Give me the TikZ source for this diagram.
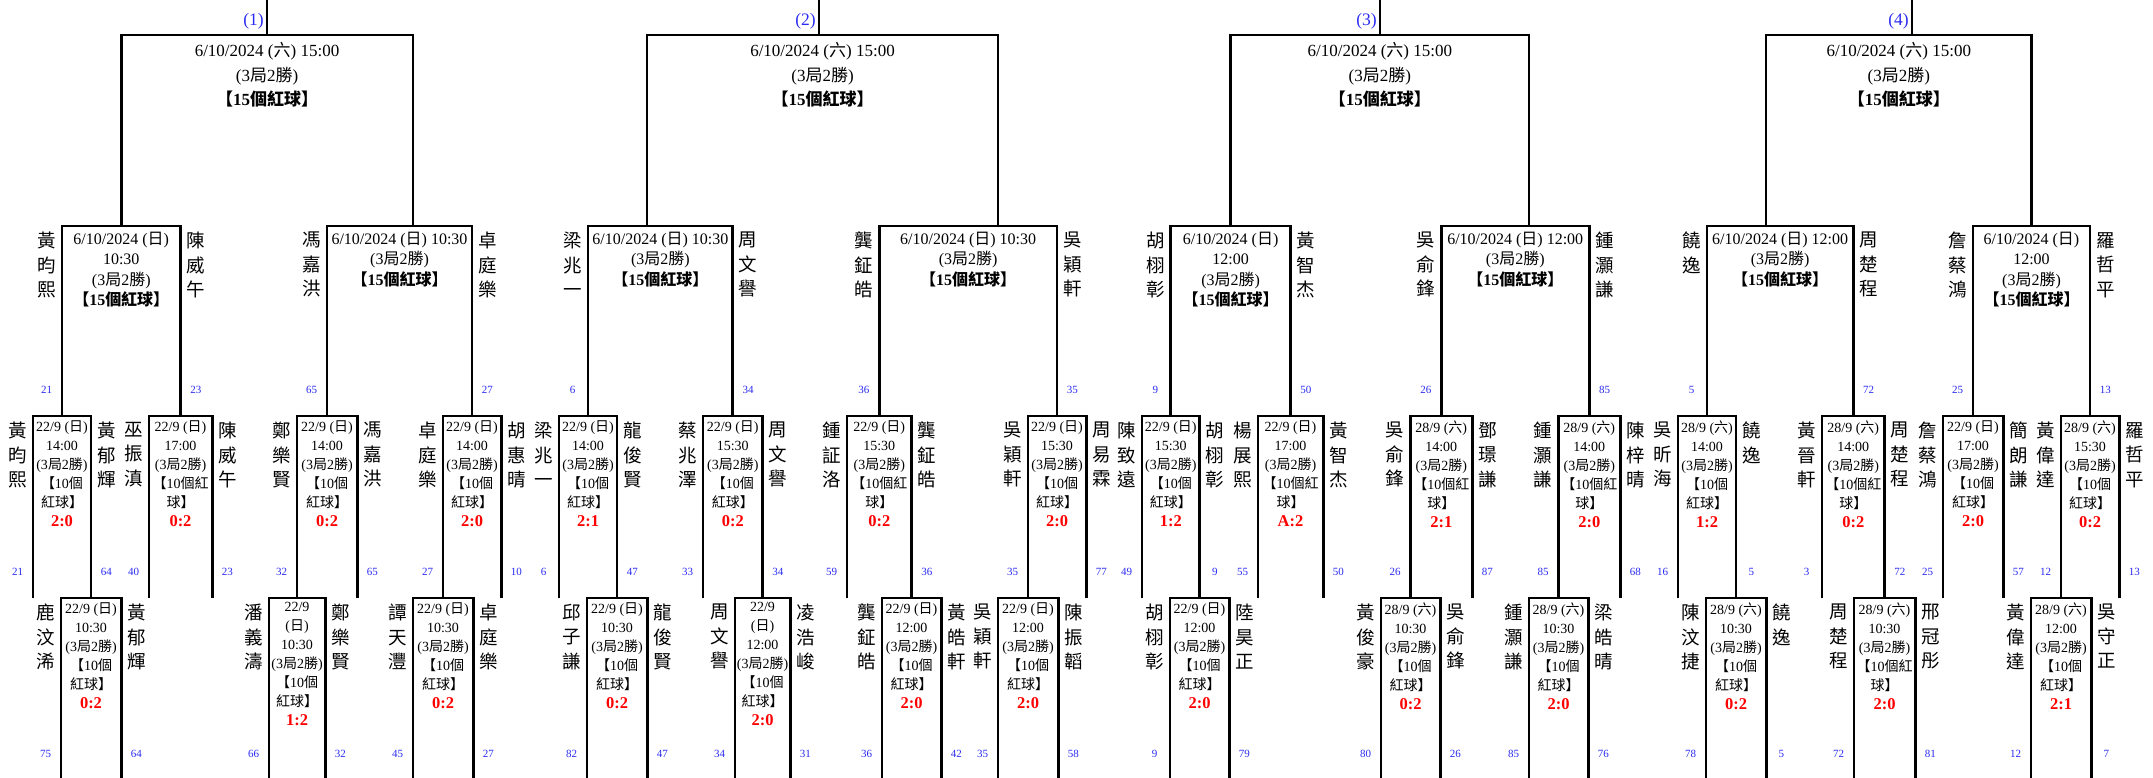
\documentclass[tikz,border=0pt]{standalone}
\usepackage{fontspec}
\setmainfont{Liberation Serif}
\newfontfamily\zhfont{Noto Sans CJK TC}
\usepackage{xcolor}
\usetikzlibrary{positioning}
\definecolor{seedBlue}{HTML}{2A2AF2}
\definecolor{scoreRed}{HTML}{FF0000}
\newcommand{\zh}[1]{{\zhfont #1}}
\newcommand{\bestof}{(3\zh{局}2\zh{勝})}
\newcommand{\bigballs}{\textbf{\zh{【}15\zh{個紅球】}}}
\newcommand{\tenballs}{\zh{【}10\zh{個}\\\zh{紅球】}}
\newcommand{\tenballsw}{\zh{【}10\zh{個紅}\\\zh{球】}}
\newcommand{\dsun}{(\zh{日})}
\newcommand{\dsat}{(\zh{六})}
\newcommand{\mscore}[1]{{\color{scoreRed}\fontsize{16.5}{19}\selectfont\bfseries #1}}

\begin{document}
\begin{tikzpicture}[x=1pt, y=-1pt,
        qfinal/.style={align=center, anchor=north, inner xsep=0pt, inner ysep=7.3pt,
            font=\fontsize{17}{24.5}\selectfont},
        qsemi/.style={align=center, anchor=north, inner xsep=0pt, inner ysep=5.7pt,
            font=\fontsize{16}{20.5}\selectfont},
        qheat/.style={align=center, anchor=north, inner xsep=0pt, inner ysep=4.5pt,
            font=\fontsize{14}{19}\selectfont},
        pname/.style={align=center, inner sep=0pt,
            font=\zhfont\fontsize{18.5}{24.5}\selectfont},
        seedno/.style={inner sep=0pt, text=seedBlue, font=\fontsize{11}{13}\selectfont},
        qlabel/.style={anchor=east, inner sep=0pt, text=seedBlue,
            font=\fontsize{17.5}{20}\selectfont},
        bline/.style={line width=2.6pt, draw=black}
    ]
    \useasboundingbox (0,0) rectangle (2153,777);
    \coordinate (rowtop) at (0,-2);
    \coordinate (rowthree) at (0,598);
    \coordinate (rowbottom) at (0,779);

    % ---------- (1)
    \node[qheat, minimum width=60pt] (u1a) at (91,598) {22/9 \dsun\\10:30\\\bestof\\\tenballs\\\mscore{0:2}};
    \node[qheat, minimum width=56pt] (u1b) at (297,598) {22/9\\\dsun\\10:30\\\bestof\\\tenballs\\\mscore{1:2}};
    \node[qheat, minimum width=60pt] (u1c) at (443,598) {22/9 \dsun\\10:30\\\bestof\\\tenballs\\\mscore{0:2}};
    \node[qheat, minimum width=58pt] (t1a) at (62,416) {22/9 \dsun\\14:00\\\bestof\\\tenballs\\\mscore{2:0}};
    \node[qheat, minimum width=63pt] (t1b) at (180.5,416) {22/9 \dsun\\17:00\\\bestof\\\tenballsw\\\mscore{0:2}};
    \node[qheat, minimum width=60pt] (t1c) at (327,416) {22/9 \dsun\\14:00\\\bestof\\\tenballs\\\mscore{0:2}};
    \node[qheat, minimum width=58pt] (t1d) at (472,416) {22/9 \dsun\\14:00\\\bestof\\\tenballs\\\mscore{2:0}};
    \node[qsemi, minimum width=118.5pt] (s1a) at (121.25,226) {6/10/2024 \dsun\\10:30\\\bestof\\\bigballs};
    \node[qsemi, minimum width=145pt] (s1b) at (399.5,226) {6/10/2024 \dsun{} 10:30\\\bestof\\\bigballs};
    \node[qfinal] (f1) at (267,35) {6/10/2024 \dsat{} 15:00\\\bestof\\\bigballs};
    \coordinate (s1a-stem) at (s1a.north);
    \coordinate (s1b-stem) at (413,226);
    \coordinate (f1-stem) at (267,35);
    \node[qlabel, xshift=-3pt] (lab1) at (f1-stem |- 0,21) {(1)};

    \node[pname, below left=6pt and 5.7pt of s1a.north west] (s1a-l) {黃\\昀\\熙}; \node[seedno] (s1a-ls) at (s1a-l |- 0,390) {21};
    \node[pname, below right=6pt and 5.7pt of s1a.north east] (s1a-r) {陳\\威\\午}; \node[seedno] (s1a-rs) at (s1a-r |- 0,390) {23};
    \node[pname, below left=6pt and 5.7pt of s1b.north west] (s1b-l) {馮\\嘉\\洪}; \node[seedno] (s1b-ls) at (s1b-l |- 0,390) {65};
    \node[pname, below right=6pt and 5.7pt of s1b.north east] (s1b-r) {卓\\庭\\樂}; \node[seedno] (s1b-rs) at (s1b-r |- 0,390) {27};
    \node[pname, below left=6pt and 5.7pt of t1a.north west] (t1a-l) {黃\\昀\\熙}; \node[seedno] (t1a-ls) at (t1a-l |- 0,572) {21};
    \node[pname, below right=6pt and 5.7pt of t1a.north east] (t1a-r) {黃\\郁\\輝}; \node[seedno] (t1a-rs) at (t1a-r |- 0,572) {64};
    \node[pname, below left=6pt and 5.7pt of t1b.north west] (t1b-l) {巫\\振\\滇}; \node[seedno] (t1b-ls) at (t1b-l |- 0,572) {40};
    \node[pname, below right=6pt and 5.7pt of t1b.north east] (t1b-r) {陳\\威\\午}; \node[seedno] (t1b-rs) at (t1b-r |- 0,572) {23};
    \node[pname, below left=6pt and 5.7pt of t1c.north west] (t1c-l) {鄭\\樂\\賢}; \node[seedno] (t1c-ls) at (t1c-l |- 0,572) {32};
    \node[pname, below right=6pt and 5.7pt of t1c.north east] (t1c-r) {馮\\嘉\\洪}; \node[seedno] (t1c-rs) at (t1c-r |- 0,572) {65};
    \node[pname, below left=6pt and 5.7pt of t1d.north west] (t1d-l) {卓\\庭\\樂}; \node[seedno] (t1d-ls) at (t1d-l |- 0,572) {27};
    \node[pname, below right=6pt and 5.7pt of t1d.north east] (t1d-r) {胡\\惠\\晴}; \node[seedno] (t1d-rs) at (t1d-r |- 0,572) {10};
    \node[pname, below left=6pt and 5.7pt of u1a.north west] (u1a-l) {鹿\\汶\\浠}; \node[seedno] (u1a-ls) at (u1a-l |- 0,754) {75};
    \node[pname, below right=6pt and 5.7pt of u1a.north east] (u1a-r) {黃\\郁\\輝}; \node[seedno] (u1a-rs) at (u1a-r |- 0,754) {64};
    \node[pname, below left=6pt and 5.7pt of u1b.north west] (u1b-l) {潘\\義\\濤}; \node[seedno] (u1b-ls) at (u1b-l |- 0,754) {66};
    \node[pname, below right=6pt and 5.7pt of u1b.north east] (u1b-r) {鄭\\樂\\賢}; \node[seedno] (u1b-rs) at (u1b-r |- 0,754) {32};
    \node[pname, below left=6pt and 5.7pt of u1c.north west] (u1c-l) {譚\\天\\灃}; \node[seedno] (u1c-ls) at (u1c-l |- 0,754) {45};
    \node[pname, below right=6pt and 5.7pt of u1c.north east] (u1c-r) {卓\\庭\\樂}; \node[seedno] (u1c-rs) at (u1c-r |- 0,754) {27};

    % ---------- (2)
    \node[qheat, minimum width=60pt] (u2a) at (617,598) {22/9 \dsun\\10:30\\\bestof\\\tenballs\\\mscore{0:2}};
    \node[qheat, minimum width=55pt] (u2b) at (762.5,598) {22/9\\\dsun\\12:00\\\bestof\\\tenballs\\\mscore{2:0}};
    \node[qheat, minimum width=59pt] (u2c) at (911.5,598) {22/9 \dsun\\12:00\\\bestof\\\tenballs\\\mscore{2:0}};
    \node[qheat, minimum width=60pt] (u2d) at (1028,598) {22/9 \dsun\\12:00\\\bestof\\\tenballs\\\mscore{2:0}};
    \node[qheat, minimum width=58pt] (t2a) at (588,416) {22/9 \dsun\\14:00\\\bestof\\\tenballs\\\mscore{2:1}};
    \node[qheat, minimum width=59.5pt] (t2b) at (732.75,416) {22/9 \dsun\\15:30\\\bestof\\\tenballs\\\mscore{0:2}};
    \node[qheat, minimum width=64.5pt] (t2c) at (879.25,416) {22/9 \dsun\\15:30\\\bestof\\\tenballsw\\\mscore{0:2}};
    \node[qheat, minimum width=58pt] (t2d) at (1057,416) {22/9 \dsun\\15:30\\\bestof\\\tenballs\\\mscore{2:0}};
    \node[qsemi, minimum width=144.75pt] (s2a) at (660.4,226) {6/10/2024 \dsun{} 10:30\\\bestof\\\bigballs};
    \node[qsemi, minimum width=177.75pt] (s2b) at (968.1,226) {6/10/2024 \dsun{} 10:30\\\bestof\\\bigballs};
    \node[qfinal] (f2) at (822.5,35) {6/10/2024 \dsat{} 15:00\\\bestof\\\bigballs};
    \coordinate (s2a-stem) at (647,226);
    \coordinate (s2b-stem) at (998,226);
    \coordinate (f2-stem) at (819,35);
    \node[qlabel, xshift=-3pt] (lab2) at (f2-stem |- 0,21) {(2)};

    \node[pname, below left=6pt and 5.7pt of s2a.north west] (s2a-l) {梁\\兆\\一}; \node[seedno] (s2a-ls) at (s2a-l |- 0,390) {6};
    \node[pname, below right=6pt and 5.7pt of s2a.north east] (s2a-r) {周\\文\\譽}; \node[seedno] (s2a-rs) at (s2a-r |- 0,390) {34};
    \node[pname, below left=6pt and 5.7pt of s2b.north west] (s2b-l) {龔\\鉦\\皓}; \node[seedno] (s2b-ls) at (s2b-l |- 0,390) {36};
    \node[pname, below right=6pt and 5.7pt of s2b.north east] (s2b-r) {吳\\穎\\軒}; \node[seedno] (s2b-rs) at (s2b-r |- 0,390) {35};
    \node[pname, below left=6pt and 5.7pt of t2a.north west] (t2a-l) {梁\\兆\\一}; \node[seedno] (t2a-ls) at (t2a-l |- 0,572) {6};
    \node[pname, below right=6pt and 5.7pt of t2a.north east] (t2a-r) {龍\\俊\\賢}; \node[seedno] (t2a-rs) at (t2a-r |- 0,572) {47};
    \node[pname, below left=6pt and 5.7pt of t2b.north west] (t2b-l) {蔡\\兆\\澤}; \node[seedno] (t2b-ls) at (t2b-l |- 0,572) {33};
    \node[pname, below right=6pt and 5.7pt of t2b.north east] (t2b-r) {周\\文\\譽}; \node[seedno] (t2b-rs) at (t2b-r |- 0,572) {34};
    \node[pname, below left=6pt and 5.7pt of t2c.north west] (t2c-l) {鍾\\証\\洛}; \node[seedno] (t2c-ls) at (t2c-l |- 0,572) {59};
    \node[pname, below right=6pt and 5.7pt of t2c.north east] (t2c-r) {龔\\鉦\\皓}; \node[seedno] (t2c-rs) at (t2c-r |- 0,572) {36};
    \node[pname, below left=6pt and 5.7pt of t2d.north west] (t2d-l) {吳\\穎\\軒}; \node[seedno] (t2d-ls) at (t2d-l |- 0,572) {35};
    \node[pname, below right=6pt and 5.7pt of t2d.north east] (t2d-r) {周\\易\\霖}; \node[seedno] (t2d-rs) at (t2d-r |- 0,572) {77};
    \node[pname, below left=6pt and 5.7pt of u2a.north west] (u2a-l) {邱\\子\\謙}; \node[seedno] (u2a-ls) at (u2a-l |- 0,754) {82};
    \node[pname, below right=6pt and 5.7pt of u2a.north east] (u2a-r) {龍\\俊\\賢}; \node[seedno] (u2a-rs) at (u2a-r |- 0,754) {47};
    \node[pname, below left=6pt and 5.7pt of u2b.north west] (u2b-l) {周\\文\\譽}; \node[seedno] (u2b-ls) at (u2b-l |- 0,754) {34};
    \node[pname, below right=6pt and 5.7pt of u2b.north east] (u2b-r) {凌\\浩\\峻}; \node[seedno] (u2b-rs) at (u2b-r |- 0,754) {31};
    \node[pname, below left=6pt and 5.7pt of u2c.north west] (u2c-l) {龔\\鉦\\皓}; \node[seedno] (u2c-ls) at (u2c-l |- 0,754) {36};
    \node[pname, below right=6pt and 5.7pt of u2c.north east] (u2c-r) {黃\\皓\\軒}; \node[seedno] (u2c-rs) at (u2c-r |- 0,754) {42};
    \node[pname, below left=6pt and 5.7pt of u2d.north west] (u2d-l) {吳\\穎\\軒}; \node[seedno] (u2d-ls) at (u2d-l |- 0,754) {35};
    \node[pname, below right=6pt and 5.7pt of u2d.north east] (u2d-r) {陳\\振\\韜}; \node[seedno] (u2d-rs) at (u2d-r |- 0,754) {58};

    % ---------- (3)
    \node[qheat, minimum width=59pt] (u3a) at (1199.5,598) {22/9 \dsun\\12:00\\\bestof\\\tenballs\\\mscore{2:0}};
    \node[qheat, minimum width=59pt] (u3b) at (1410.5,598) {28/9 \dsat\\10:30\\\bestof\\\tenballs\\\mscore{0:2}};
    \node[qheat, minimum width=59pt] (u3c) at (1558.5,598) {28/9 \dsat\\10:30\\\bestof\\\tenballs\\\mscore{2:0}};
    \node[qheat, minimum width=57.5pt] (t3a) at (1170.75,416) {22/9 \dsun\\15:30\\\bestof\\\tenballs\\\mscore{1:2}};
    \node[qheat, minimum width=65pt] (t3b) at (1290.5,416) {22/9 \dsun\\17:00\\\bestof\\\tenballsw\\\mscore{A:2}};
    \node[qheat, minimum width=61.5pt] (t3c) at (1441.25,416) {28/9 \dsat\\14:00\\\bestof\\\tenballsw\\\mscore{2:1}};
    \node[qheat, minimum width=61.5pt] (t3d) at (1589.25,416) {28/9 \dsat\\14:00\\\bestof\\\tenballsw\\\mscore{2:0}};
    \node[qsemi, minimum width=119.75pt] (s3a) at (1230.6,226) {6/10/2024 \dsun\\12:00\\\bestof\\\bigballs};
    \node[qsemi, minimum width=148pt] (s3b) at (1515.25,226) {6/10/2024 \dsun{} 12:00\\\bestof\\\bigballs};
    \node[qfinal] (f3) at (1379.8,35) {6/10/2024 \dsat{} 15:00\\\bestof\\\bigballs};
    \coordinate (s3a-stem) at (s3a.north);
    \coordinate (s3b-stem) at (1529,226);
    \coordinate (f3-stem) at (1380,35);
    \node[qlabel, xshift=-3pt] (lab3) at (f3-stem |- 0,21) {(3)};

    \node[pname, below left=6pt and 5.7pt of s3a.north west] (s3a-l) {胡\\栩\\彰}; \node[seedno] (s3a-ls) at (s3a-l |- 0,390) {9};
    \node[pname, below right=6pt and 5.7pt of s3a.north east] (s3a-r) {黃\\智\\杰}; \node[seedno] (s3a-rs) at (s3a-r |- 0,390) {50};
    \node[pname, below left=6pt and 5.7pt of s3b.north west] (s3b-l) {吳\\俞\\鋒}; \node[seedno] (s3b-ls) at (s3b-l |- 0,390) {26};
    \node[pname, below right=6pt and 5.7pt of s3b.north east] (s3b-r) {鍾\\灝\\謙}; \node[seedno] (s3b-rs) at (s3b-r |- 0,390) {85};
    \node[pname, below left=6pt and 5.7pt of t3a.north west] (t3a-l) {陳\\致\\遠}; \node[seedno] (t3a-ls) at (t3a-l |- 0,572) {49};
    \node[pname, below right=6pt and 5.7pt of t3a.north east] (t3a-r) {胡\\栩\\彰}; \node[seedno] (t3a-rs) at (t3a-r |- 0,572) {9};
    \node[pname, below left=6pt and 5.7pt of t3b.north west] (t3b-l) {楊\\展\\熙}; \node[seedno] (t3b-ls) at (t3b-l |- 0,572) {55};
    \node[pname, below right=6pt and 5.7pt of t3b.north east] (t3b-r) {黃\\智\\杰}; \node[seedno] (t3b-rs) at (t3b-r |- 0,572) {50};
    \node[pname, below left=6pt and 5.7pt of t3c.north west] (t3c-l) {吳\\俞\\鋒}; \node[seedno] (t3c-ls) at (t3c-l |- 0,572) {26};
    \node[pname, below right=6pt and 5.7pt of t3c.north east] (t3c-r) {鄧\\璟\\謙}; \node[seedno] (t3c-rs) at (t3c-r |- 0,572) {87};
    \node[pname, below left=6pt and 5.7pt of t3d.north west] (t3d-l) {鍾\\灝\\謙}; \node[seedno] (t3d-ls) at (t3d-l |- 0,572) {85};
    \node[pname, below right=6pt and 5.7pt of t3d.north east] (t3d-r) {陳\\梓\\晴}; \node[seedno] (t3d-rs) at (t3d-r |- 0,572) {68};
    \node[pname, below left=6pt and 5.7pt of u3a.north west] (u3a-l) {胡\\栩\\彰}; \node[seedno] (u3a-ls) at (u3a-l |- 0,754) {9};
    \node[pname, below right=6pt and 5.7pt of u3a.north east] (u3a-r) {陸\\昊\\正}; \node[seedno] (u3a-rs) at (u3a-r |- 0,754) {79};
    \node[pname, below left=6pt and 5.7pt of u3b.north west] (u3b-l) {黃\\俊\\豪}; \node[seedno] (u3b-ls) at (u3b-l |- 0,754) {80};
    \node[pname, below right=6pt and 5.7pt of u3b.north east] (u3b-r) {吳\\俞\\鋒}; \node[seedno] (u3b-rs) at (u3b-r |- 0,754) {26};
    \node[pname, below left=6pt and 5.7pt of u3c.north west] (u3c-l) {鍾\\灝\\謙}; \node[seedno] (u3c-ls) at (u3c-l |- 0,754) {85};
    \node[pname, below right=6pt and 5.7pt of u3c.north east] (u3c-r) {梁\\皓\\晴}; \node[seedno] (u3c-rs) at (u3c-r |- 0,754) {76};

    % ---------- (4)
    \node[qheat, minimum width=60pt] (u4a) at (1736,598) {28/9 \dsat\\10:30\\\bestof\\\tenballs\\\mscore{0:2}};
    \node[qheat, minimum width=61pt] (u4b) at (1884.5,598) {28/9 \dsat\\10:30\\\bestof\\\tenballsw\\\mscore{2:0}};
    \node[qheat, minimum width=60pt] (u4c) at (2061,598) {28/9 \dsat\\12:00\\\bestof\\\tenballs\\\mscore{2:1}};
    \node[qheat, minimum width=58pt] (t4a) at (1707,416) {28/9 \dsat\\14:00\\\bestof\\\tenballs\\\mscore{1:2}};
    \node[qheat, minimum width=62.5pt] (t4b) at (1853.25,416) {28/9 \dsat\\14:00\\\bestof\\\tenballsw\\\mscore{0:2}};
    \node[qheat, minimum width=60pt] (t4c) at (1973,416) {22/9 \dsun\\17:00\\\bestof\\\tenballs\\\mscore{2:0}};
    \node[qheat, minimum width=58pt] (t4d) at (2090,416) {28/9 \dsat\\15:30\\\bestof\\\tenballs\\\mscore{0:2}};
    \node[qsemi, minimum width=146.25pt] (s4a) at (1780.1,226) {6/10/2024 \dsun{} 12:00\\\bestof\\\bigballs};
    \node[qsemi, minimum width=117pt] (s4b) at (2031.5,226) {6/10/2024 \dsun\\12:00\\\bestof\\\bigballs};
    \node[qfinal] (f4) at (1898.75,35) {6/10/2024 \dsat{} 15:00\\\bestof\\\bigballs};
    \coordinate (s4a-stem) at (1766,226);
    \coordinate (s4b-stem) at (s4b.north);
    \coordinate (f4-stem) at (1912,35);
    \node[qlabel, xshift=-3pt] (lab4) at (f4-stem |- 0,21) {(4)};

    \node[pname, below left=6pt and 5.7pt of s4a.north west] (s4a-l) {饒\\逸}; \node[seedno] (s4a-ls) at (s4a-l |- 0,390) {5};
    \node[pname, below right=6pt and 5.7pt of s4a.north east] (s4a-r) {周\\楚\\程}; \node[seedno] (s4a-rs) at (s4a-r |- 0,390) {72};
    \node[pname, below left=6pt and 5.7pt of s4b.north west] (s4b-l) {詹\\蔡\\鴻}; \node[seedno] (s4b-ls) at (s4b-l |- 0,390) {25};
    \node[pname, below right=6pt and 5.7pt of s4b.north east] (s4b-r) {羅\\哲\\平}; \node[seedno] (s4b-rs) at (s4b-r |- 0,390) {13};
    \node[pname, below left=6pt and 5.7pt of t4a.north west] (t4a-l) {吳\\昕\\海}; \node[seedno] (t4a-ls) at (t4a-l |- 0,572) {16};
    \node[pname, below right=6pt and 5.7pt of t4a.north east] (t4a-r) {饒\\逸}; \node[seedno] (t4a-rs) at (t4a-r |- 0,572) {5};
    \node[pname, below left=6pt and 5.7pt of t4b.north west] (t4b-l) {黃\\晉\\軒}; \node[seedno] (t4b-ls) at (t4b-l |- 0,572) {3};
    \node[pname, below right=6pt and 5.7pt of t4b.north east] (t4b-r) {周\\楚\\程}; \node[seedno] (t4b-rs) at (t4b-r |- 0,572) {72};
    \node[pname, below left=6pt and 5.7pt of t4c.north west] (t4c-l) {詹\\蔡\\鴻}; \node[seedno] (t4c-ls) at (t4c-l |- 0,572) {25};
    \node[pname, below right=6pt and 5.7pt of t4c.north east] (t4c-r) {簡\\朗\\謙}; \node[seedno] (t4c-rs) at (t4c-r |- 0,572) {57};
    \node[pname, below left=6pt and 5.7pt of t4d.north west] (t4d-l) {黃\\偉\\達}; \node[seedno] (t4d-ls) at (t4d-l |- 0,572) {12};
    \node[pname, below right=6pt and 5.7pt of t4d.north east] (t4d-r) {羅\\哲\\平}; \node[seedno] (t4d-rs) at (t4d-r |- 0,572) {13};
    \node[pname, below left=6pt and 5.7pt of u4a.north west] (u4a-l) {陳\\汶\\捷}; \node[seedno] (u4a-ls) at (u4a-l |- 0,754) {78};
    \node[pname, below right=6pt and 5.7pt of u4a.north east] (u4a-r) {饒\\逸}; \node[seedno] (u4a-rs) at (u4a-r |- 0,754) {5};
    \node[pname, below left=6pt and 5.7pt of u4b.north west] (u4b-l) {周\\楚\\程}; \node[seedno] (u4b-ls) at (u4b-l |- 0,754) {72};
    \node[pname, below right=6pt and 5.7pt of u4b.north east] (u4b-r) {邢\\冠\\彤}; \node[seedno] (u4b-rs) at (u4b-r |- 0,754) {81};
    \node[pname, below left=6pt and 5.7pt of u4c.north west] (u4c-l) {黃\\偉\\達}; \node[seedno] (u4c-ls) at (u4c-l |- 0,754) {12};
    \node[pname, below right=6pt and 5.7pt of u4c.north east] (u4c-r) {吳\\守\\正}; \node[seedno] (u4c-rs) at (u4c-r |- 0,754) {7};

    % brackets
    \draw[bline] (u1a.north west |- rowbottom) |- (u1a.north) -| (u1a.north east |- rowbottom);
    \draw[bline] (u1b.north west |- rowbottom) |- (u1b.north) -| (u1b.north east |- rowbottom);
    \draw[bline] (u1c.north west |- rowbottom) |- (u1c.north) -| (u1c.north east |- rowbottom);
    \draw[bline] (t1a.north west |- rowthree) |- (t1a.north) -| (u1a.north);
    \draw[bline] (t1b.north west |- rowthree) |- (t1b.north) -| (t1b.north east |- rowthree);
    \draw[bline] (u1b.north) |- (t1c.north) -| (t1c.north east |- rowthree);
    \draw[bline] (u1c.north) |- (t1d.north) -| (t1d.north east |- rowthree);
    \draw[bline] (t1a.north) |- (s1a.north) -| (t1b.north);
    \draw[bline] (t1c.north) |- (s1b.north) -| (t1d.north);
    \draw[bline] (s1a-stem) |- (f1.north) -| (s1b-stem);
    \draw[bline] (f1-stem) -- (f1-stem |- rowtop);

    \draw[bline] (u2a.north west |- rowbottom) |- (u2a.north) -| (u2a.north east |- rowbottom);
    \draw[bline] (u2b.north west |- rowbottom) |- (u2b.north) -| (u2b.north east |- rowbottom);
    \draw[bline] (u2c.north west |- rowbottom) |- (u2c.north) -| (u2c.north east |- rowbottom);
    \draw[bline] (u2d.north west |- rowbottom) |- (u2d.north) -| (u2d.north east |- rowbottom);
    \draw[bline] (t2a.north west |- rowthree) |- (t2a.north) -| (u2a.north);
    \draw[bline] (t2b.north west |- rowthree) |- (t2b.north) -| (u2b.north);
    \draw[bline] (t2c.north west |- rowthree) |- (t2c.north) -| (u2c.north);
    \draw[bline] (u2d.north) |- (t2d.north) -| (t2d.north east |- rowthree);
    \draw[bline] (t2a.north) |- (s2a.north) -| (t2b.north);
    \draw[bline] (t2c.north) |- (s2b.north) -| (t2d.north);
    \draw[bline] (s2a-stem) |- (f2.north) -| (s2b-stem);
    \draw[bline] (f2-stem) -- (f2-stem |- rowtop);

    \draw[bline] (u3a.north west |- rowbottom) |- (u3a.north) -| (u3a.north east |- rowbottom);
    \draw[bline] (u3b.north west |- rowbottom) |- (u3b.north) -| (u3b.north east |- rowbottom);
    \draw[bline] (u3c.north west |- rowbottom) |- (u3c.north) -| (u3c.north east |- rowbottom);
    \draw[bline] (t3a.north west |- rowthree) |- (t3a.north) -| (u3a.north);
    \draw[bline] (t3b.north west |- rowthree) |- (t3b.north) -| (t3b.north east |- rowthree);
    \draw[bline] (u3b.north) |- (t3c.north) -| (t3c.north east |- rowthree);
    \draw[bline] (u3c.north) |- (t3d.north) -| (t3d.north east |- rowthree);
    \draw[bline] (t3a.north) |- (s3a.north) -| (t3b.north);
    \draw[bline] (t3c.north) |- (s3b.north) -| (t3d.north);
    \draw[bline] (s3a-stem) |- (f3.north) -| (s3b-stem);
    \draw[bline] (f3-stem) -- (f3-stem |- rowtop);

    \draw[bline] (u4a.north west |- rowbottom) |- (u4a.north) -| (u4a.north east |- rowbottom);
    \draw[bline] (u4b.north west |- rowbottom) |- (u4b.north) -| (u4b.north east |- rowbottom);
    \draw[bline] (u4c.north west |- rowbottom) |- (u4c.north) -| (u4c.north east |- rowbottom);
    \draw[bline] (t4a.north west |- rowthree) |- (t4a.north) -| (u4a.north);
    \draw[bline] (t4b.north west |- rowthree) |- (t4b.north) -| (u4b.north);
    \draw[bline] (t4c.north west |- rowthree) |- (t4c.north) -| (t4c.north east |- rowthree);
    \draw[bline] (u4c.north) |- (t4d.north) -| (t4d.north east |- rowthree);
    \draw[bline] (t4a.north) |- (s4a.north) -| (t4b.north);
    \draw[bline] (t4c.north) |- (s4b.north) -| (t4d.north);
    \draw[bline] (s4a-stem) |- (f4.north) -| (s4b-stem);
    \draw[bline] (f4-stem) -- (f4-stem |- rowtop);

\end{tikzpicture}
\end{document}
